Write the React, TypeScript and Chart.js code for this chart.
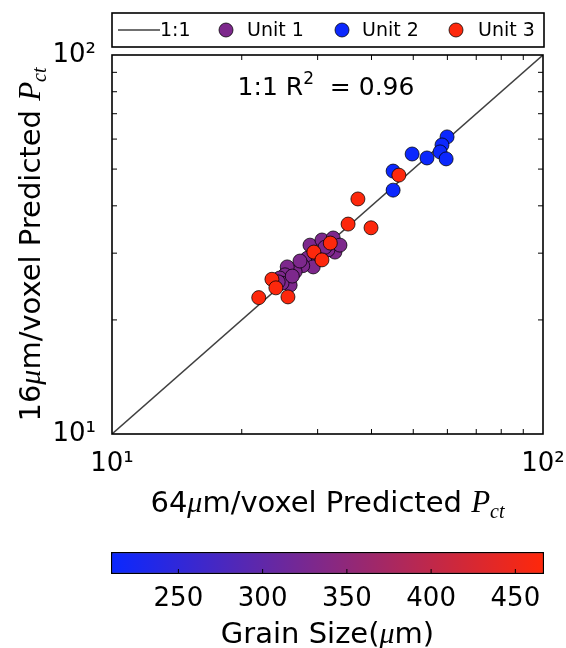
import { useEffect, useRef } from 'react';
import { Chart, registerables } from 'chart.js';

Chart.register(...registerables);

const FONT = '"DejaVu Sans", sans-serif';
const MATH = '"Liberation Serif", "DejaVu Serif", serif';

// ---- data ----
const unitNames = ['Unit 1', 'Unit 2', 'Unit 3'];
const unitGrainSize = [331, 212, 465]; // µm, sets each unit's colour on the bar

const unit1X = [28.8, 30.7, 32.6, 32.9, 31.7, 28.4, 30.1, 29.3, 27.7, 26.6, 25.5, 25.2, 24.5, 25.9, 24.8, 26.2, 31.2, 27.3, 24.3, 33.8];
const unit1Y = [31.5, 32.5, 32.9, 30.2, 30.6, 29.1, 29.1, 27.6, 27.8, 26.8, 27.6, 26.3, 25.8, 24.7, 25.0, 26.1, 31.1, 28.6, 25.2, 31.5];

const unit2X = [59.9, 58.3, 57.7, 59.6, 53.8, 49.7, 44.9, 44.9];
const unit2Y = [60.8, 57.9, 55.5, 53.2, 53.5, 54.8, 49.4, 44.0];

const unit3X = [46.3, 37.2, 35.3, 39.9, 32.1, 29.4, 30.7, 23.5, 24.0, 25.6, 21.9];
const unit3Y = [48.2, 41.7, 35.8, 35.0, 31.9, 30.2, 28.8, 25.6, 24.3, 23.0, 22.9];

const oneToOne = [10, 100];
const axisTicks = [10, 100];
const axisTickLabels = ['10¹', '10²'];
const minorTicks = [20, 30, 40, 50, 60, 70, 80, 90];
const r2Value = '0.96';

const grainMin = 210;
const grainMax = 467;
const grainTicks = [250, 300, 350, 400, 450];

// blue -> purple -> red map used by the colour bar and the markers
const LOW = [10, 40, 255];
const HIGH = [255, 40, 10];
function grainColor(g: number): string {
  const t = Math.min(1, Math.max(0, (g - grainMin) / (grainMax - grainMin)));
  const c = LOW.map((l, i) => Math.round(l + (HIGH[i] - l) * t));
  return `rgb(${c[0]},${c[1]},${c[2]})`;
}

const zip = (xs: number[], ys: number[]) => xs.map((x, i) => ({ x, y: ys[i] }));

type Run = { text: string; font: string; dy?: number };
function runsWidth(ctx: CanvasRenderingContext2D, runs: Run[]) {
  let w = 0;
  for (const r of runs) {
    ctx.font = r.font;
    w += ctx.measureText(r.text).width;
  }
  return w;
}
function drawRuns(ctx: CanvasRenderingContext2D, runs: Run[], cx: number, baseline: number) {
  let x = cx - runsWidth(ctx, runs) / 2;
  ctx.textAlign = 'left';
  ctx.textBaseline = 'alphabetic';
  for (const r of runs) {
    ctx.font = r.font;
    ctx.fillText(r.text, x, baseline + (r.dy || 0));
    x += ctx.measureText(r.text).width;
  }
}

const titleRuns = (prefix: string): Run[] => [
  { text: prefix, font: `29px ${FONT}` },
  { text: 'μ', font: `italic 30px ${MATH}` },
  { text: 'm/voxel Predicted ', font: `29px ${FONT}` },
  { text: 'P', font: `italic 31px ${MATH}` },
  { text: 'ct', font: `italic 20px ${MATH}`, dy: 6 },
];

const framePlugin = {
  id: 'frame',
  afterDatasetsDraw(chart: any) {
    const { ctx, chartArea: a, scales } = chart;
    ctx.save();
    ctx.strokeStyle = '#000';
    ctx.lineWidth = 1;
    ctx.beginPath();
    for (const v of minorTicks) {
      const px = scales.x.getPixelForValue(v);
      ctx.moveTo(px, a.bottom); ctx.lineTo(px, a.bottom - 5);
      ctx.moveTo(px, a.top); ctx.lineTo(px, a.top + 5);
      const py = scales.y.getPixelForValue(v);
      ctx.moveTo(a.left, py); ctx.lineTo(a.left + 5, py);
      ctx.moveTo(a.right, py); ctx.lineTo(a.right - 5, py);
    }
    ctx.stroke();
    ctx.lineWidth = 1.6;
    ctx.strokeRect(a.left, a.top, a.right - a.left, a.bottom - a.top);
    ctx.restore();
  },
  afterDraw(chart: any) {
    const { ctx, chartArea: a } = chart;
    const ds = chart.data.datasets;
    ctx.save();
    ctx.fillStyle = '#000';

    // legend box above the plot
    ctx.lineWidth = 1.6;
    ctx.strokeStyle = '#000';
    ctx.strokeRect(a.left, 13, a.right - a.left + 1, 34);
    const cy = 30;
    ctx.strokeStyle = ds[0].borderColor;
    ctx.lineWidth = ds[0].borderWidth;
    ctx.beginPath();
    ctx.moveTo(118, cy); ctx.lineTo(160, cy);
    ctx.stroke();
    ctx.font = `19px ${FONT}`;
    ctx.textAlign = 'left';
    ctx.textBaseline = 'middle';
    ctx.fillText(ds[0].label, 160, cy + 1);
    const markerX = [226, 342, 456];
    const textX = [247, 362, 478];
    for (let i = 0; i < 3; i++) {
      const d = ds[i + 1];
      ctx.beginPath();
      ctx.arc(markerX[i], cy, 7, 0, Math.PI * 2);
      ctx.fillStyle = d.backgroundColor;
      ctx.fill();
      ctx.lineWidth = 1;
      ctx.strokeStyle = d.borderColor;
      ctx.stroke();
      ctx.fillStyle = '#000';
      ctx.fillText(d.label, textX[i], cy + 1);
    }

    // R² note
    drawRuns(ctx, [
      { text: '1:1 R', font: `25px ${FONT}` },
      { text: '2', font: `17px ${FONT}`, dy: -11 },
      { text: '  = ' + r2Value, font: `25px ${FONT}` },
    ], 326, 95);

    // axis titles
    const cx = (a.left + a.right) / 2;
    drawRuns(ctx, titleRuns('64'), cx, 512);
    ctx.translate(30, (a.top + a.bottom) / 2);
    ctx.rotate(-Math.PI / 2);
    drawRuns(ctx, titleRuns('16'), 0, 10);
    ctx.restore();
  },
};

const barPlugin = {
  id: 'barTicks',
  afterDatasetsDraw(chart: any) {
    const { ctx, chartArea: a, scales } = chart;
    ctx.save();
    ctx.strokeStyle = '#000';
    ctx.lineWidth = 1;
    ctx.beginPath();
    for (const v of grainTicks) {
      const px = scales.x.getPixelForValue(v);
      ctx.moveTo(px, a.bottom); ctx.lineTo(px, a.bottom - 5);
    }
    ctx.stroke();
    ctx.fillStyle = '#000';
    drawRuns(ctx, [
      { text: 'Grain Size(', font: `29px ${FONT}` },
      { text: 'μ', font: `italic 30px ${MATH}` },
      { text: 'm)', font: `29px ${FONT}` },
    ], (a.left + a.right) / 2, 113);
    ctx.restore();
  },
};

export default function App() {
  const mainRef = useRef<HTMLCanvasElement>(null);
  const barRef = useRef<HTMLCanvasElement>(null);

  useEffect(() => {
    const point = (i: number) => ({
      backgroundColor: grainColor(unitGrainSize[i]),
      borderColor: 'rgba(0,0,0,0.75)',
      borderWidth: 1,
      pointRadius: 7,
      pointHoverRadius: 7,
    });
    const tickFont = { family: FONT, size: 26 };
    // keep the edge tick labels from pulling the plot area inward
    const noEdgePadding = (s: any) => {
      s.paddingLeft = 0;
      s.paddingRight = 0;
      s.paddingTop = 0;
      s.paddingBottom = 0;
    };

    const main = new Chart(mainRef.current!, {
      type: 'scatter',
      data: {
        datasets: [
          {
            label: '1:1',
            data: zip(oneToOne, oneToOne),
            showLine: true,
            borderColor: '#404040',
            borderWidth: 1.5,
            pointRadius: 0,
            order: 4,
          } as any,
          { label: unitNames[0], data: zip(unit1X, unit1Y), ...point(0), order: 3 },
          { label: unitNames[1], data: zip(unit2X, unit2Y), ...point(1), order: 2 },
          { label: unitNames[2], data: zip(unit3X, unit3Y), ...point(2), order: 1 },
        ],
      },
      options: {
        animation: false,
        responsive: false,
        events: [],
        layout: { padding: { left: 0, right: 23, top: 55, bottom: 0 } },
        plugins: { legend: { display: false }, tooltip: { enabled: false } },
        scales: {
          x: {
            type: 'logarithmic',
            position: 'bottom',
            min: 10,
            max: 100,
            afterBuildTicks: (s: any) => { s.ticks = axisTicks.map((value) => ({ value })); },
            afterFit: (s: any) => { s.height = 96; noEdgePadding(s); },
            grid: { display: false },
            border: { display: false },
            ticks: {
              autoSkip: false,
              maxRotation: 0,
              padding: 7,
              color: '#000',
              font: tickFont,
              callback: (v: any) => axisTickLabels[axisTicks.indexOf(Number(v))] ?? '',
            },
          },
          y: {
            type: 'logarithmic',
            position: 'left',
            min: 10,
            max: 100,
            afterBuildTicks: (s: any) => { s.ticks = axisTicks.map((value) => ({ value })); },
            afterFit: (s: any) => { s.width = 112; noEdgePadding(s); },
            grid: { display: false },
            border: { display: false },
            ticks: {
              autoSkip: false,
              padding: 8,
              color: '#000',
              font: tickFont,
              callback: (v: any) => axisTickLabels[axisTicks.indexOf(Number(v))] ?? '',
            },
          },
        },
      },
      plugins: [framePlugin],
    });

    const bar = new Chart(barRef.current!, {
      type: 'bar',
      data: {
        labels: ['grain'],
        datasets: [
          {
            data: [[grainMin, grainMax]] as any,
            barPercentage: 1,
            categoryPercentage: 1,
            borderColor: '#000',
            borderWidth: 1.5,
            borderSkipped: false,
            backgroundColor: (c: any) => {
              const { chart } = c;
              const area = chart.chartArea;
              if (!area) return grainColor((grainMin + grainMax) / 2);
              const xs = chart.scales.x;
              const x0 = xs.getPixelForValue(grainMin);
              const x1 = xs.getPixelForValue(grainMax);
              const g = chart.ctx.createLinearGradient(x0, 0, x1, 0);
              for (let k = 0; k <= 10; k++) {
                g.addColorStop(k / 10, grainColor(grainMin + ((grainMax - grainMin) * k) / 10));
              }
              return g;
            },
          },
        ],
      },
      options: {
        animation: false,
        responsive: false,
        events: [],
        indexAxis: 'y',
        layout: { padding: { left: 111, right: 22, top: 22, bottom: 0 } },
        plugins: { legend: { display: false }, tooltip: { enabled: false } },
        scales: {
          x: {
            type: 'linear',
            min: grainMin,
            max: grainMax,
            afterBuildTicks: (s: any) => { s.ticks = grainTicks.map((value) => ({ value })); },
            afterFit: (s: any) => { s.height = 74; noEdgePadding(s); },
            grid: { display: false },
            border: { display: false },
            ticks: { autoSkip: false, maxRotation: 0, padding: 2, color: '#000', font: tickFont },
          },
          y: { display: false },
        },
      },
      plugins: [barPlugin],
    });

    return () => {
      main.destroy();
      bar.destroy();
    };
  }, []);

  return (
    <div style={{ position: 'fixed', left: 0, top: 0, width: 566, height: 648, background: '#fff' }}>
      <canvas ref={mainRef} width={566} height={530} style={{ position: 'absolute', left: 0, top: 0 }} />
      <canvas ref={barRef} width={566} height={118} style={{ position: 'absolute', left: 0, top: 530 }} />
    </div>
  );
}
